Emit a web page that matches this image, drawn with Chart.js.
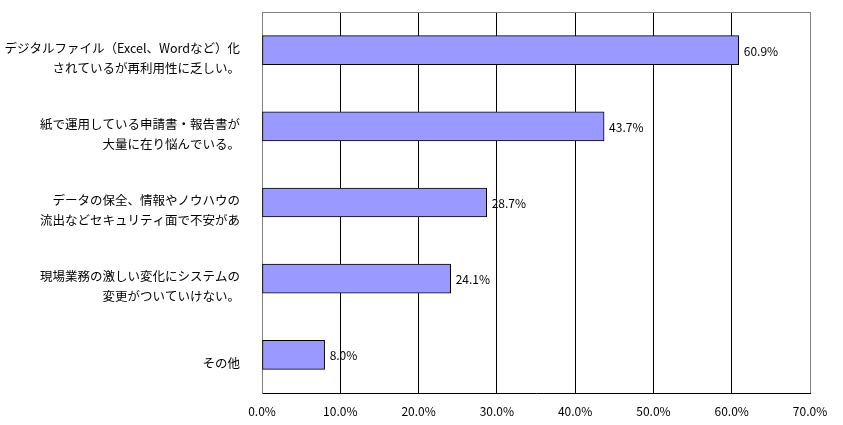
<!DOCTYPE html>
<html>
<head>
<meta charset="utf-8">
<script src="https://cdn.jsdelivr.net/npm/chart.js@4/dist/chart.umd.min.js"></script>
<style>
  html, body { margin: 0; padding: 0; background: #fff; }
  #wrap { width: 843px; height: 425px; }
</style>
</head>
<body>
<div id="wrap"><canvas id="chart" width="843" height="425"></canvas></div>
<script>
const categories = [
  ['デジタルファイル（Excel、Wordなど）化', 'されているが再利用性に乏しい。'],
  ['紙で運用している申請書・報告書が', '大量に在り悩んでいる。'],
  ['データの保全、情報やノウハウの', '流出などセキュリティ面で不安があ'],
  ['現場業務の激しい変化にシステムの', '変更がついていけない。'],
  ['その他']
];
const values = [60.9, 43.7, 28.7, 24.1, 8.0];
const xTicks = [0, 10, 20, 30, 40, 50, 60, 70];

const FONT = '"Noto Sans CJK JP", "Noto Sans", sans-serif';

// value labels at the end of each bar
const valueLabels = {
  id: 'valueLabels',
  afterDatasetsDraw(chart) {
    const ctx = chart.ctx;
    const meta = chart.getDatasetMeta(0);
    ctx.save();
    ctx.font = '12px ' + FONT;
    ctx.fillStyle = '#000';
    ctx.textAlign = 'left';
    ctx.textBaseline = 'middle';
    meta.data.forEach((bar, i) => {
      ctx.fillText(values[i].toFixed(1) + '%', bar.x + 5, bar.y + 1);
    });
    ctx.restore();
  }
};

// gray frame on top of the plot area
const topBorder = {
  id: 'topBorder',
  beforeDatasetsDraw(chart) {
    const { ctx, chartArea } = chart;
    ctx.save();
    ctx.strokeStyle = '#808080';
    ctx.lineWidth = 1;
    ctx.beginPath();
    ctx.moveTo(chartArea.left, chartArea.top + 0.5);
    ctx.lineTo(chartArea.right, chartArea.top + 0.5);
    ctx.stroke();
    ctx.restore();
  }
};

new Chart(document.getElementById('chart'), {
  type: 'bar',
  data: {
    labels: categories,
    datasets: [{
      data: values,
      backgroundColor: '#9999FF',
      borderColor: '#000',
      borderWidth: 1,
      borderSkipped: false,
      barThickness: 29
    }]
  },
  options: {
    indexAxis: 'y',
    responsive: false,
    animation: false,
    layout: { padding: { top: 12, right: 33, left: 0, bottom: 0 } },
    plugins: {
      legend: { display: false },
      tooltip: { enabled: false }
    },
    scales: {
      x: {
        min: 0,
        max: 70,
        afterBuildTicks: s => { s.ticks = xTicks.map(v => ({ value: v })); },
        afterFit: s => { s.height = 32; },
        grid: {
          drawTicks: false,
          color: c => (c.index === 0 || c.index === xTicks.length - 1) ? '#808080' : '#000'
        },
        border: { color: '#000' },
        ticks: {
          padding: 11,
          color: '#000',
          font: { family: FONT, size: 12 },
          callback: v => Number(v).toFixed(1) + '%'
        }
      },
      y: {
        afterFit: s => {
          s.width = 262;
          s.paddingTop = 0;
          s.paddingBottom = 0;
        },
        grid: { display: false, drawTicks: false },
        border: { color: '#808080' },
        ticks: {
          padding: 22,
          labelOffset: 8,
          color: '#000',
          font: { family: FONT, size: 12.5, lineHeight: 1.6 }
        }
      }
    }
  },
  plugins: [valueLabels, topBorder]
});
</script>
</body>
</html>
